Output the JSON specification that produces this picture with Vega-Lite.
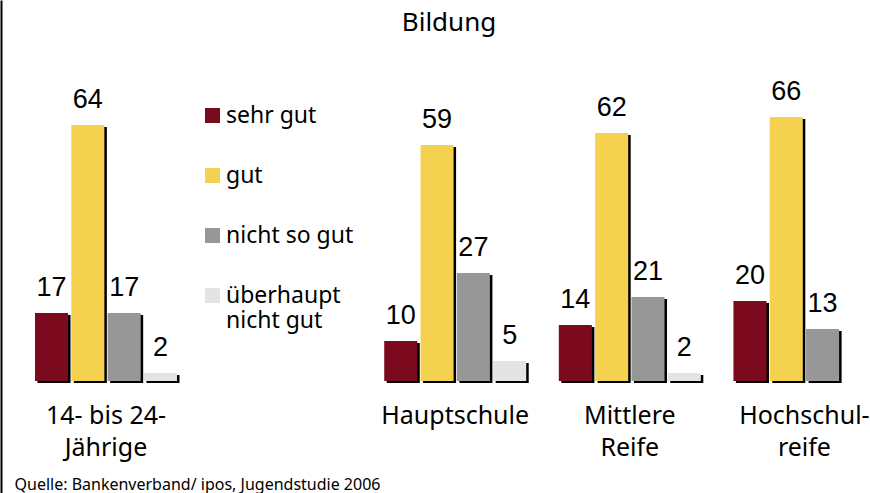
{
  "$schema": "https://vega.github.io/schema/vega-lite/v6.json",
  "width": 869,
  "height": 381,
  "autosize": {"type": "none"},
  "padding": {"left": 1, "top": 0, "right": 0, "bottom": 112},
  "background": "white",
  "config": {"view": {"stroke": null}},
  "title": {"text": "Bildung", "anchor": "middle", "frame": "group", "fontSize": 26, "font": "Noto Sans", "fontWeight": "normal", "color": "black", "baseline": "alphabetic", "offset": 0, "dy": 57, "dx": 13.5},
  "data": {"values": [
    {"Gruppe": "14- bis 24-Jährige", "Bewertung": "sehr gut", "Wert": 17},
    {"Gruppe": "14- bis 24-Jährige", "Bewertung": "gut", "Wert": 64},
    {"Gruppe": "14- bis 24-Jährige", "Bewertung": "nicht so gut", "Wert": 17},
    {"Gruppe": "14- bis 24-Jährige", "Bewertung": "überhaupt nicht gut", "Wert": 2},
    {"Gruppe": "Hauptschule", "Bewertung": "sehr gut", "Wert": 10},
    {"Gruppe": "Hauptschule", "Bewertung": "gut", "Wert": 59},
    {"Gruppe": "Hauptschule", "Bewertung": "nicht so gut", "Wert": 27},
    {"Gruppe": "Hauptschule", "Bewertung": "überhaupt nicht gut", "Wert": 5},
    {"Gruppe": "Mittlere Reife", "Bewertung": "sehr gut", "Wert": 14},
    {"Gruppe": "Mittlere Reife", "Bewertung": "gut", "Wert": 62},
    {"Gruppe": "Mittlere Reife", "Bewertung": "nicht so gut", "Wert": 21},
    {"Gruppe": "Mittlere Reife", "Bewertung": "überhaupt nicht gut", "Wert": 2},
    {"Gruppe": "Hochschulreife", "Bewertung": "sehr gut", "Wert": 20},
    {"Gruppe": "Hochschulreife", "Bewertung": "gut", "Wert": 66},
    {"Gruppe": "Hochschulreife", "Bewertung": "nicht so gut", "Wert": 13}
  ]},
  "encoding": {
    "x": {
      "field": "Gruppe", "type": "nominal",
      "scale": {"domain": ["14- bis 24-Jährige", "_", "Hauptschule", "Mittlere Reife", "Hochschulreife"], "range": [34, 874.4], "paddingInner": 0.187, "paddingOuter": 0},
      "axis": {
        "orient": "bottom", "domain": false, "ticks": false, "grid": false,
        "labelPadding": 22, "labelBaseline": "top", "labelFont": "Noto Sans", "labelFontSize": 25, "labelColor": "black",
        "labelLineHeight": 32.5, "labelAngle": 0, "labelLimit": 400, "labelOverlap": false,
        "labelExpr": "datum.value == '14- bis 24-Jährige' ? ['14- bis 24-', 'Jährige'] : datum.value == 'Mittlere Reife' ? ['Mittlere', 'Reife'] : datum.value == 'Hochschulreife' ? ['Hochschul-', 'reife'] : datum.value == '_' ? '' : datum.value",
        "title": "Quelle: Bankenverband/ ipos, Jugendstudie 2006",
        "titleFont": "Noto Sans", "titleFontSize": 16, "titleFontWeight": "normal", "titleColor": "black",
        "titleX": 13, "titleY": 108, "titleAlign": "left", "titleAnchor": "start", "titleBaseline": "alphabetic"
      }
    },
    "y": {
      "field": "Wert", "type": "quantitative",
      "scale": {"domain": [-28, 95.25], "range": [493, 0], "nice": false, "zero": false},
      "axis": {"domain": true, "domainColor": "black", "domainWidth": 2, "ticks": false, "labels": false, "grid": false, "title": null}
    }
  },
  "layer": [
    {
      "mark": {"type": "bar", "color": "black", "yOffset": 2},
      "encoding": {
        "xOffset": {
          "field": "Bewertung", "type": "nominal",
          "scale": {"domain": ["sehr gut", "gut", "nicht so gut", "überhaupt nicht gut"], "range": [2.5, 144.5], "paddingInner": 0.09, "paddingOuter": 0}
        }
      }
    },
    {
      "layer": [
        {
          "mark": {"type": "bar"},
          "encoding": {
            "color": {
              "field": "Bewertung", "type": "nominal",
              "scale": {"domain": ["sehr gut", "gut", "nicht so gut", "überhaupt nicht gut"], "range": ["#7b0a1e", "#f4d250", "#979797", "#e4e4e4"]},
              "legend": {
                "orient": "none", "legendX": 200, "legendY": 104, "title": null, "padding": 0,
                "symbolType": "square", "symbolSize": 225, "symbolStrokeWidth": 0,
                "labelFont": "Noto Sans", "labelFontSize": 23, "labelColor": "black", "labelOffset": 2,
                "rowPadding": 36, "labelLimit": 300, "labelLineHeight": 23.5,
                "labelExpr": "datum.value == 'überhaupt nicht gut' ? ['überhaupt', 'nicht gut'] : datum.value"
              }
            }
          }
        },
        {
          "mark": {"type": "text", "font": "Liberation Sans", "fontSize": 27, "baseline": "alphabetic", "dy": -17, "color": "black"},
          "encoding": {"text": {"field": "Wert", "type": "quantitative"}}
        }
      ],
      "encoding": {
        "xOffset": {
          "field": "Bewertung", "type": "nominal",
          "scale": {"domain": ["sehr gut", "gut", "nicht so gut", "überhaupt nicht gut"], "range": [0, 142], "paddingInner": 0.09, "paddingOuter": 0}
        }
      }
    }
  ],
  "resolve": {"scale": {"xOffset": "independent"}}
}
